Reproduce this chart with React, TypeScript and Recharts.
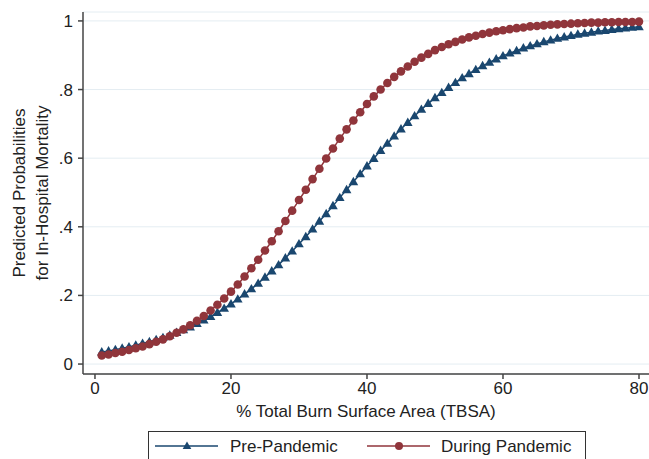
import { CartesianGrid, Line, LineChart, XAxis, YAxis } from "recharts";

// Stata-style predicted probabilities plot, two logistic curves by TBSA.

const tbsa = [
  1, 2, 3, 4, 5, 6, 7, 8, 9, 10, 11, 12, 13, 14, 15, 16, 17, 18, 19, 20,
  21, 22, 23, 24, 25, 26, 27, 28, 29, 30, 31, 32, 33, 34, 35, 36, 37, 38, 39, 40,
  41, 42, 43, 44, 45, 46, 47, 48, 49, 50, 51, 52, 53, 54, 55, 56, 57, 58, 59, 60,
  61, 62, 63, 64, 65, 66, 67, 68, 69, 70, 71, 72, 73, 74, 75, 76, 77, 78, 79, 80,
];

const prePandemic = [
  0.035, 0.038, 0.042, 0.046, 0.05, 0.055, 0.06, 0.065, 0.071, 0.077,
  0.084, 0.092, 0.1, 0.108, 0.118, 0.128, 0.138, 0.15, 0.162, 0.175,
  0.189, 0.204, 0.219, 0.235, 0.253, 0.271, 0.289, 0.309, 0.329, 0.35,
  0.371, 0.393, 0.416, 0.438, 0.461, 0.485, 0.508, 0.531, 0.554, 0.577,
  0.599, 0.622, 0.643, 0.664, 0.685, 0.704, 0.723, 0.742, 0.759, 0.776,
  0.791, 0.806, 0.82, 0.834, 0.846, 0.858, 0.869, 0.879, 0.889, 0.898,
  0.906, 0.913, 0.921, 0.927, 0.933, 0.939, 0.944, 0.949, 0.953, 0.957,
  0.961, 0.964, 0.967, 0.97, 0.972, 0.975, 0.977, 0.979, 0.981, 0.983,
];

const duringPandemic = [
  0.025, 0.028, 0.032, 0.036, 0.041, 0.046, 0.051, 0.058, 0.065, 0.072,
  0.081, 0.091, 0.101, 0.113, 0.126, 0.14, 0.156, 0.173, 0.191, 0.211,
  0.232, 0.255, 0.279, 0.304, 0.331, 0.358, 0.387, 0.417, 0.447, 0.478,
  0.508, 0.539, 0.569, 0.599, 0.628, 0.657, 0.684, 0.71, 0.734, 0.758,
  0.78, 0.8, 0.819, 0.837, 0.853, 0.867, 0.881, 0.893, 0.904, 0.915,
  0.924, 0.932, 0.939, 0.946, 0.952, 0.957, 0.962, 0.966, 0.97, 0.973,
  0.976, 0.979, 0.981, 0.984, 0.985, 0.987, 0.989, 0.99, 0.991, 0.992,
  0.993, 0.994, 0.995, 0.995, 0.996, 0.996, 0.997, 0.997, 0.997, 0.998,
];

const xTicks = [0, 20, 40, 60, 80];
const yTicks = [0, 0.2, 0.4, 0.6, 0.8, 1];

const NAVY = "#1a476f";
const MAROON = "#90353b";
const AXIS = "#444";
const FONT = '"Liberation Sans", Arial, Helvetica, sans-serif';

const data = tbsa.map((t, i) => ({
  tbsa: t,
  pre: prePandemic[i],
  during: duringPandemic[i],
}));

const fmtProb = (v: number) =>
  v === 0 ? "0" : v === 1 ? "1" : v.toFixed(1).replace(/^0/, "");

function triangle(cx: number, cy: number, s = 1) {
  return `M${cx},${cy - 5 * s} L${cx + 4.8 * s},${cy + 3.4 * s} L${cx - 4.8 * s},${cy + 3.4 * s} Z`;
}

function TriDot(p: any) {
  if (p.cx == null || p.cy == null) return <g key={`t${p.index}`} />;
  return <path key={`t${p.index}`} d={triangle(p.cx, p.cy)} fill={NAVY} />;
}

function CircleDot(p: any) {
  if (p.cx == null || p.cy == null) return <g key={`c${p.index}`} />;
  return <circle key={`c${p.index}`} cx={p.cx} cy={p.cy} r={4.3} fill={MAROON} />;
}

function YTitle() {
  return (
    <g fontFamily={FONT} fontSize={17} fill="#222">
      <text x={25} y={193} textAnchor="middle" transform="rotate(-90 25 193)">
        Predicted Probabilities
      </text>
      <text x={48} y={193} textAnchor="middle" transform="rotate(-90 48 193)">
        for In-Hospital Mortality
      </text>
    </g>
  );
}

function LegendBox() {
  return (
    <svg
      width={649}
      height={459}
      style={{ position: "absolute", left: 0, top: 0, pointerEvents: "none" }}
    >
      <rect x={148.5} y={431.5} width={437} height={40} fill="#fff" stroke="#333" strokeWidth={1} />
      <line x1={155} y1={446} x2={218} y2={446} stroke={NAVY} strokeWidth={1.5} />
      <path d={triangle(187, 446, 0.9)} fill={NAVY} />
      <text x={230} y={452} fontFamily={FONT} fontSize={17} fill="#222">
        Pre-Pandemic
      </text>
      <line x1={367} y1={446} x2={430} y2={446} stroke={MAROON} strokeWidth={1.5} />
      <circle cx={399} cy={446} r={4} fill={MAROON} />
      <text x={441} y={452} fontFamily={FONT} fontSize={17} fill="#222">
        During Pandemic
      </text>
    </svg>
  );
}

export default function App() {
  return (
    <div
      style={{
        position: "absolute",
        left: 0,
        top: 0,
        width: 649,
        height: 459,
        background: "#fff",
        overflow: "hidden",
      }}
    >
      <LineChart
        width={649}
        height={459}
        data={data}
        margin={{ top: 12, right: 0, bottom: 0, left: 0 }}
      >
        <CartesianGrid stroke="#e4edf2" vertical={false} />
        <XAxis
          dataKey="tbsa"
          type="number"
          domain={[-1.76, 81.47]}
          ticks={xTicks}
          allowDataOverflow
          height={85}
          tickSize={5}
          tickMargin={3}
          stroke={AXIS}
          strokeWidth={1.5}
          tick={{ fill: "#222", fontSize: 17, fontFamily: FONT }}
          label={{
            value: "% Total Burn Surface Area (TBSA)",
            position: "insideTop",
            offset: 31,
            fill: "#222",
            fontSize: 17,
            fontFamily: FONT,
          }}
        />
        <YAxis
          type="number"
          domain={[-0.029, 1.026]}
          ticks={yTicks}
          allowDataOverflow
          width={83}
          tickSize={5}
          tickMargin={5}
          tickFormatter={fmtProb}
          stroke={AXIS}
          strokeWidth={1.5}
          tick={{ fill: "#222", fontSize: 17, fontFamily: FONT }}
          label={{ content: () => <YTitle /> }}
        />
        <Line
          dataKey="pre"
          name="Pre-Pandemic"
          stroke={NAVY}
          strokeWidth={1.5}
          dot={TriDot}
          activeDot={false}
          isAnimationActive={false}
        />
        <Line
          dataKey="during"
          name="During Pandemic"
          stroke={MAROON}
          strokeWidth={1.5}
          dot={CircleDot}
          activeDot={false}
          isAnimationActive={false}
        />
      </LineChart>
      <LegendBox />
    </div>
  );
}
